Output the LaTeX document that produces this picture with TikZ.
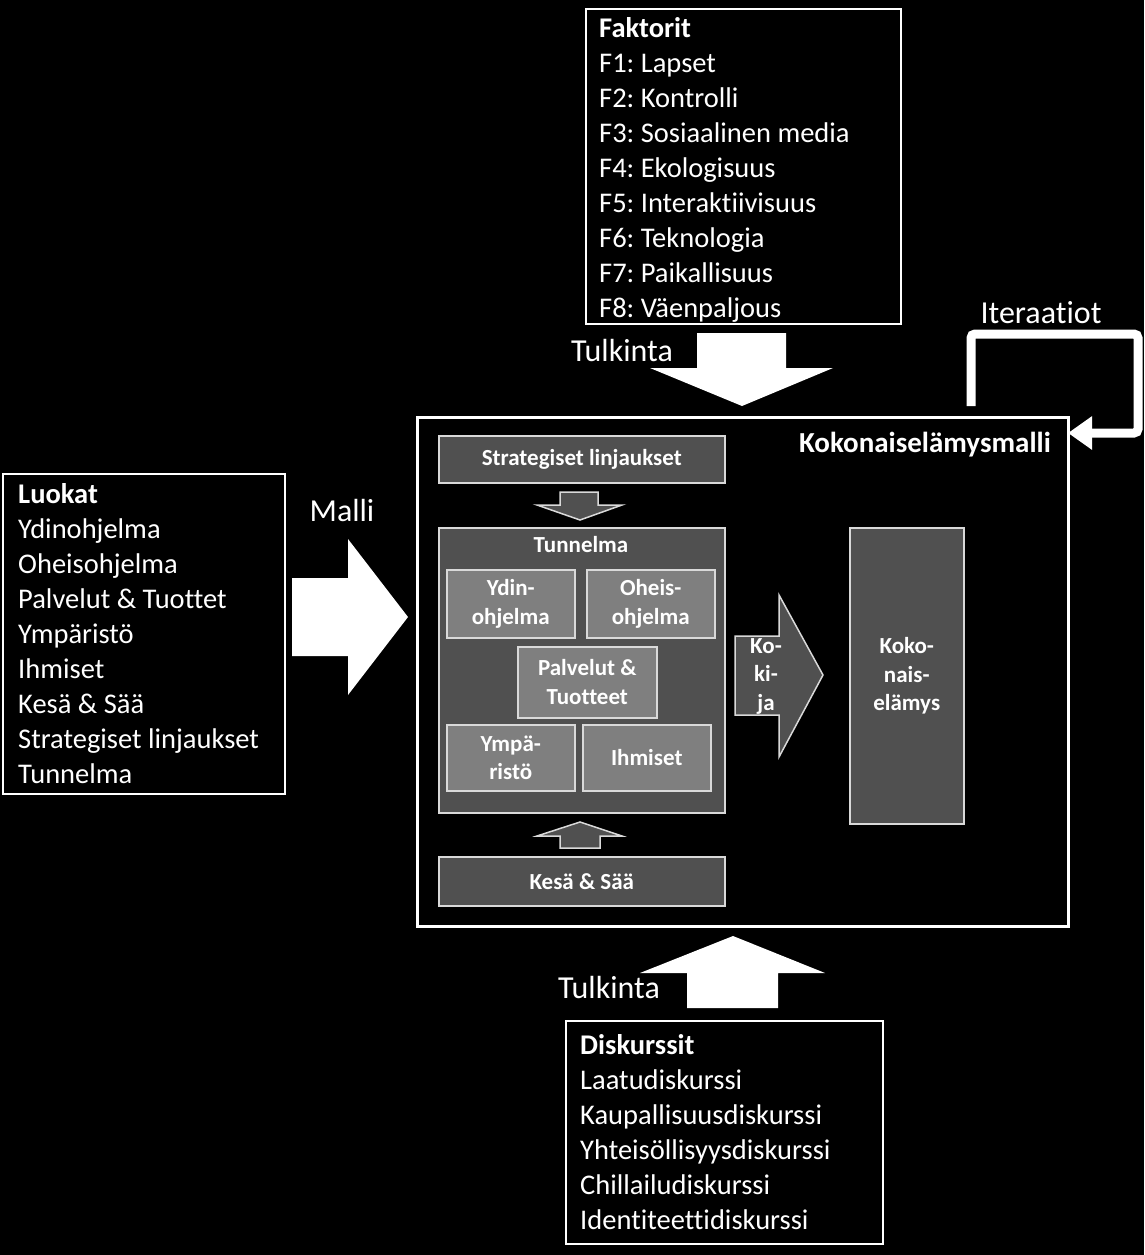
\documentclass[tikz,border=0pt]{standalone}
\usepackage{fontspec}
\setmainfont[Ligatures=NoCommon]{Carlito}
\usetikzlibrary{arrows.meta}
\definecolor{dk}{RGB}{80,80,80}
\definecolor{lt}{RGB}{127,127,127}
\definecolor{bd}{RGB}{217,217,217}
\frenchspacing
\begin{document}
\begin{tikzpicture}[x=1pt,y=-1pt,
  listbox/.style={draw=white, line width=2, fill=black, anchor=north west, inner sep=0},
  listtext/.style={align=left, inner sep=0, text=white, anchor=west, font=\fontsize{28.5}{35}\selectfont},
  biglabel/.style={text=white, inner sep=0, font=\fontsize{32}{38}\selectfont},
  darkbox/.style={draw=bd, fill=dk, line width=1.5, anchor=north west, inner sep=0},
  itembox/.style={draw=bd, fill=lt, line width=1.5, anchor=north west, inner sep=0},
  boxtext/.style={text=white, inner sep=0, align=center, font=\bfseries\fontsize{23}{28.5}\selectfont},
  bigarrow/.style={fill=white},
  smallarrow/.style={fill=dk, draw=bd, line width=1.5}
]
\fill[black] (0,0) rectangle (1144,1255);
\useasboundingbox (0,0) rectangle (1144,1255);

% Faktorit
\node[listbox, minimum width=315, minimum height=315] (fbox) at (585,8) {};
\node[listtext] (ftext) at ([xshift=14,yshift=-3]fbox.west) {\textbf{Faktorit}\\F1: Lapset\\F2: Kontrolli\\F3: Sosiaalinen media\\F4: Ekologisuus\\F5: Interaktiivisuus\\F6: Teknologia\\F7: Paikallisuus\\F8: Väenpaljous};

% Luokat
\node[listbox, minimum width=282, minimum height=320] (lbox) at (2,473) {};
\node[listtext] (ltext) at ([xshift=16]lbox.west) {\textbf{Luokat}\\Ydinohjelma\\Oheisohjelma\\Palvelut \& Tuottet\\Ympäristö\\Ihmiset\\Kesä \& Sää\\Strategiset linjaukset\\Tunnelma};

% Diskurssit
\node[listbox, minimum width=317, minimum height=223] (dbox) at (565,1020) {};
\node[listtext] (dtext) at ([xshift=15]dbox.west) {\textbf{Diskurssit}\\Laatudiskurssi\\Kaupallisuusdiskurssi\\Yhteisöllisyysdiskurssi\\Chillailudiskurssi\\Identiteettidiskurssi};

% Model frame
\node[draw=white, line width=3, anchor=north west, minimum width=651, minimum height=509, inner sep=0] (model) at (416,416) {};
\node[text=white, inner sep=0, anchor=east, font=\bfseries\fontsize{29}{33}\selectfont] (mtitle) at (1051,445) {Kokonaiselämysmalli};

% Big arrows
\fill[bigarrow] (697,333) -- (786,333) -- (786,368) -- (833,368) -- (742,406) -- (650,368) -- (697,368) -- cycle;
\fill[bigarrow] (733,936) -- (825,973) -- (778,973) -- (778,1008) -- (687,1008) -- (687,973) -- (640,973) -- cycle;
\fill[bigarrow] (292,578) -- (348,578) -- (348,539) -- (408,617) -- (348,695) -- (348,656) -- (292,656) -- cycle;

\node[biglabel] (tulk1) at (622,351) {Tulkinta};
\node[biglabel] (tulk2) at (609,987) {Tulkinta};
\node[biglabel] (malli) at (342,511) {Malli};
\node[biglabel] (iter) at (1041,313) {Iteraatiot};

% Iteration loop
\coordinate (itstart) at (971,406);
\coordinate (itend) at (1068,433);
\draw[white, line width=9, rounded corners=4, -{Triangle[length=24pt,width=32pt]}] (itstart) |- (1138,334) |- (itend);

% Inner boxes
\node[darkbox, minimum width=286, minimum height=47] (strat) at (438,435) {};
\node[boxtext] at (strat.center) {Strategiset linjaukset};
\fill[smallarrow] (560,492) -- (598,492) -- (598,505) -- (622,505) -- (580,520) -- (537,505) -- (560,505) -- cycle;

\node[darkbox, minimum width=286, minimum height=285] (tunn) at (438,527) {};
\node[boxtext] (tunntitle) at (581,545) {Tunnelma};

\node[itembox, minimum width=128, minimum height=68] (ydin) at (446,569) {};
\node[boxtext] at (ydin.center) {Ydin-\\ohjelma};
\node[itembox, minimum width=128, minimum height=68] (oheis) at (586,569) {};
\node[boxtext] at (oheis.center) {Oheis-\\ohjelma};
\node[itembox, minimum width=139, minimum height=71] (palv) at (517,646) {};
\node[boxtext] at (palv.center) {Palvelut \&\\Tuotteet};
\node[itembox, minimum width=128, minimum height=66] (ymp) at (446,724) {};
\node[boxtext] at (ymp.center) {Ympä-\\ristö};
\node[itembox, minimum width=128, minimum height=66] (ihm) at (582,724) {};
\node[boxtext] at (ihm.center) {Ihmiset};

\fill[smallarrow] (580,822) -- (622,836) -- (600,836) -- (600,848) -- (560,848) -- (560,836) -- (537,836) -- cycle;
\node[darkbox, minimum width=286, minimum height=49] (kesa) at (438,856) {};
\node[boxtext] at (kesa.center) {Kesä \& Sää};

% Kokija arrow
\fill[smallarrow] (735,636) -- (779,636) -- (779,595) -- (823,675) -- (779,757) -- (779,715) -- (735,715) -- cycle;
\node[boxtext] (kokija) at (766,676) {Ko-\\ki-\\ja};

% Kokonaiselamys
\node[darkbox, minimum width=114, minimum height=296] (koko) at (849,527) {};
\node[boxtext] at (koko.center) {Koko-\\nais-\\elämys};
\end{tikzpicture}
\end{document}
